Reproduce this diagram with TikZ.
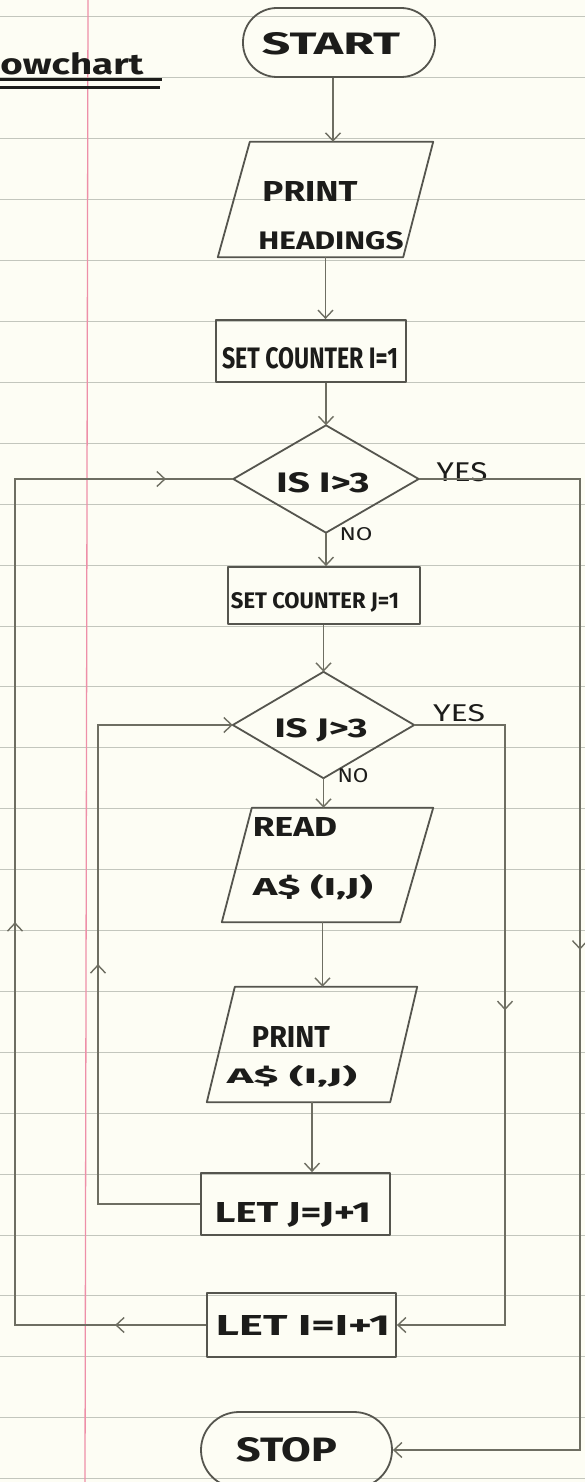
\documentclass[tikz,border=0pt]{standalone}
\usepackage{fontspec}
\setmainfont{Fira Sans}
\usepackage{graphicx}
\usetikzlibrary{arrows.meta,decorations.markings}
\definecolor{paper}{HTML}{FDFDF4}
\definecolor{rulec}{HTML}{C3C6BD}
\definecolor{marginc}{HTML}{EE8FA8}
\definecolor{ink}{HTML}{1C1C1A}
\definecolor{shapeln}{HTML}{55554E}
\definecolor{connln}{HTML}{6E6E62}
\newcommand{\hw}[3]{\resizebox{#1pt}{#2pt}{\bfseries #3}}
\newcommand{\hl}[3]{\resizebox{#1pt}{#2pt}{#3}}
\tikzset{
  shp/.style={draw=shapeln, line width=1.8pt, line join=round},
  boxnode/.style={shp, rectangle, inner sep=0pt},
  termnode/.style={boxnode, rounded corners=#1},
  ghost/.style={rectangle, inner sep=0pt},
  txt/.style={inner sep=0pt, text=ink, anchor=center},
  conn/.style={draw=connln, line width=1.4pt},
  tip/.style={-{Straight Barb[length=8pt,width=15pt]}},
}
\begin{document}
\begin{tikzpicture}[x=1pt,y=-1pt]
\fill[paper] (0,0) rectangle (585,1482);
\useasboundingbox (0,0) rectangle (585,1482);
\foreach \k in {0,...,24} \draw[rulec, line width=1pt] (0,{17+60.9*\k}) -- (585,{17+60.9*\k});
\draw[marginc, line width=1.3pt] (88,0) -- (85,1482);

% title
\node[txt] (title) at (72,64) {\hw{143}{22}{owchart}};
\draw[ink, line width=3pt] (0,80) -- (162,80);
\draw[ink, line width=3pt] (0,88) -- (160,88);

% shapes
\node[termnode=34pt, minimum width=192pt, minimum height=69pt] (start) at (339,42.5) {};
\node[ghost, minimum width=215pt, minimum height=115pt] (ph) at (325.5,199.5) {};
\draw[shp] ([xshift=32pt]ph.north west) -- (ph.north east) -- ([xshift=-30pt]ph.south east) -- (ph.south west) -- cycle;
\node[boxnode, minimum width=190pt, minimum height=62pt] (sc1) at (311,351) {};
\node[ghost, minimum width=185pt, minimum height=107pt] (d1) at (326,479) {};
\draw[shp] (d1.north) -- (d1.east) -- (d1.south) -- (d1.west) -- cycle;
\node[boxnode, minimum width=192pt, minimum height=57pt] (sc2) at (324,595.5) {};
\node[ghost, minimum width=181pt, minimum height=106pt] (d2) at (323.5,725) {};
\draw[shp] (d2.north) -- (d2.east) -- (d2.south) -- (d2.west) -- cycle;
\node[ghost, minimum width=211pt, minimum height=114pt] (read) at (327.5,865) {};
\draw[shp] ([xshift=30pt]read.north west) -- (read.north east) -- ([xshift=-33pt]read.south east) -- (read.south west) -- cycle;
\node[ghost, minimum width=210pt, minimum height=115pt] (pr) at (312,1044.5) {};
\draw[shp] ([xshift=28pt]pr.north west) -- (pr.north east) -- ([xshift=-27pt]pr.south east) -- (pr.south west) -- cycle;
\node[boxnode, minimum width=189pt, minimum height=62pt] (lj) at (295.5,1204) {};
\node[boxnode, minimum width=189pt, minimum height=64pt] (li) at (301.5,1325) {};
\node[termnode=38pt, minimum width=191pt, minimum height=76pt] (stop) at (296.5,1450) {};

% texts
\node[txt] (start-t) at (331,44) {\hw{138}{22}{START}};
\node[txt] (ph-a) at (310,191) {\hw{95}{20}{PRINT}};
\node[txt] (ph-b) at (331,241) {\hw{145}{18}{HEADINGS}};
\node[txt] (sc1-t) at (310,358) {\hw{176}{21}{SET COUNTER I=1}};
\node[txt] (d1-t) at (323,483) {\hw{93}{20}{IS I>3}};
\node[txt] (yes1) at (462,472) {\hl{51}{19}{YES}};
\node[txt] (no1) at (356,534) {\hl{33}{13}{NO}};
\node[txt] (sc2-t) at (315,602) {\hw{168}{16}{SET COUNTER J=1}};
\node[txt] (d2-t) at (321,730) {\hw{93}{19}{IS J>3}};
\node[txt] (yes2) at (459,713) {\hl{52}{17}{YES}};
\node[txt] (no2) at (353,776) {\hl{31}{14}{NO}};
\node[txt] (read-a) at (295,827) {\hw{84}{19}{READ}};
\node[txt] (read-b) at (313,887) {\hw{120}{21}{A\$ (I,J)}};
\node[txt] (pr-a) at (291,1037) {\hw{78}{21}{PRINT}};
\node[txt] (pr-b) at (292,1076) {\hw{130}{18}{A\$ (I,J)}};
\node[txt] (lj-t) at (293,1215) {\hw{156}{20}{LET J=J+1}};
\node[txt] (li-t) at (303,1325) {\hw{174}{20}{LET I=I+1}};
\node[txt] (stop-t) at (287,1450) {\hw{101}{24}{STOP}};

% straight connectors
\draw[conn,tip] ([xshift=-6pt]start.south) -- ([xshift=-6pt]start.south |- ph.north);
\draw[conn,tip] (ph.south) -- (ph.south |- sc1.north);
\draw[conn,tip] (sc1.south -| d1.north) -- (d1.north);
\draw[conn,tip] (d1.south) -- (d1.south |- sc2.north);
\draw[conn,tip] (sc2.south -| d2.north) -- (d2.north);
\draw[conn,tip] (d2.south) -- (d2.south |- read.north);
\draw[conn,tip] ([xshift=-5pt]read.south) -- ([xshift=-5pt]read.south |- pr.north);
\draw[conn,tip] (pr.south) -- (pr.south |- lj.north);

% loops
\coordinate (rout) at (580,480);
\coordinate (rin) at (505,727);
\coordinate (lin) at (98,722);
\coordinate (lout) at (15,477);

\draw[conn,tip,postaction={decorate},decoration={markings,
  mark=at position 632pt with {\arrow[connln]{Straight Barb[length=8pt,width=15pt]}}}]
  (d1.east) -- (d1.east -| rout) -- (rout |- stop.east) -- (stop.east);
\draw[conn,tip,postaction={decorate},decoration={markings,
  mark=at position 376pt with {\arrow[connln]{Straight Barb[length=8pt,width=15pt]}}}]
  (d2.east) -- (d2.east -| rin) -- (rin |- li.east) -- (li.east);
\draw[conn,tip,postaction={decorate},decoration={markings,
  mark=at position 342pt with {\arrow[connln]{Straight Barb[length=8pt,width=15pt]}}}]
  (lj.west) -- (lj.west -| lin) -- (lin |- d2.west) -- (d2.west);
\draw[conn,postaction={decorate},decoration={markings,
  mark=at position 91pt with {\arrow[connln]{Straight Barb[length=8pt,width=15pt]}},
  mark=at position 594pt with {\arrow[connln]{Straight Barb[length=8pt,width=15pt]}},
  mark=at position 1188pt with {\arrow[connln]{Straight Barb[length=8pt,width=15pt]}}}]
  (li.west) -- (li.west -| lout) -- (lout |- d1.west) -- (d1.west);
\end{tikzpicture}
\end{document}
